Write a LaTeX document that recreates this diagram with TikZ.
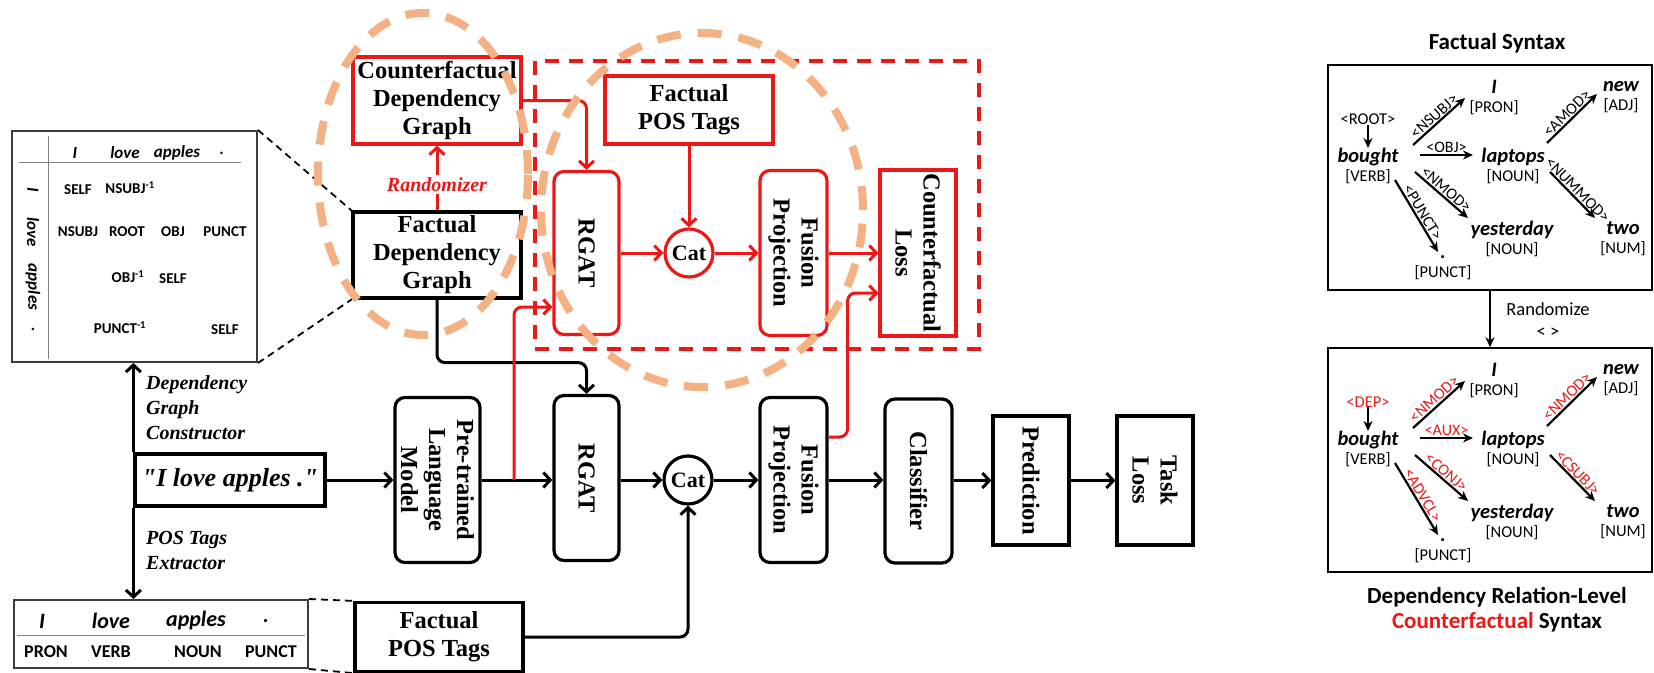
\documentclass[tikz,border=0pt]{standalone}
\usepackage{fontspec}
\setmainfont{Liberation Serif}
\newfontfamily\sentfont{Liberation Serif}[Ligatures=TeXOff]
\newfontfamily\calib{Carlito}
\usetikzlibrary{arrows.meta,calc}
\definecolor{cred}{RGB}{236,24,24}
\definecolor{corange}{RGB}{244,177,131}
\definecolor{tabline}{RGB}{60,60,60}
\newcommand\wf{\fontsize{20.5}{19}\selectfont\bfseries\itshape}
\begin{document}
\begin{tikzpicture}[x=1pt,y=-1pt,
  box/.style={draw, line width=3.2pt, inner sep=0pt, align=center, font=\bfseries\fontsize{24.5}{28}\selectfont},
  bbox/.style={box, draw=black},
  rbox/.style={box, draw=cred},
  rnd/.style={rounded corners=10pt},
  vt/.style={rotate=-90, align=center, inner sep=0pt, font=\bfseries\fontsize{24.5}{28}\selectfont},
  catnode/.style={circle, line width=3.2pt, inner sep=0pt, minimum size=48pt, font=\bfseries\fontsize{22}{24}\selectfont},
  arr/.style={line width=3pt, -{Straight Barb[length=7pt,width=15pt]}},
  rarr/.style={arr, draw=cred},
  dshd/.style={line width=1.8pt, dash pattern=on 7pt off 5pt},
  orng/.style={draw=corange, line width=8pt, dash pattern=on 24pt off 17pt},
  lbl/.style={align=left, inner sep=0pt, font=\bfseries\itshape\fontsize{20}{25}\selectfont},
  tc/.style={inner sep=0pt, font=\calib\bfseries\fontsize{15}{18}\selectfont},
  th/.style={inner sep=0pt, font=\calib\bfseries\itshape\fontsize{17}{20}\selectfont},
  wd/.style={align=center, inner sep=0pt, font=\calib\fontsize{16.5}{19}\selectfont},
  rl/.style={inner sep=1pt, font=\calib\fontsize{16}{18}\selectfont},
  rlr/.style={rl, text=cred},
  sarr/.style={line width=2.2pt, -{Stealth[length=10pt,width=9pt]}},
  ttl/.style={inner sep=0pt, align=center, font=\calib\bfseries\fontsize{23}{25}\selectfont}
]
\useasboundingbox (0,0) rectangle (1654,672);

% ---------------- left: dependency table ----------------
\node[draw=tabline, line width=2pt, minimum width=245pt, minimum height=231pt, inner sep=0pt] (deptab) at (134.5,246.5) {};
\draw[gray, line width=1pt] ($(deptab.north west)+(8,32)$) coordinate (hl1) -- ($(deptab.north east)+(-17,32)$) coordinate (hl2);
\draw[gray, line width=1pt] ($(deptab.north west)+(37,6)$) coordinate (vl1) -- ($(deptab.south west)+(37,-4)$) coordinate (vl2);
\node[th] (h1) at (75,153) {I};
\node[th] (h2) at (125,153) {love};
\node[th] (h3) at (177,153) {apples};
\node[th] (h4) at (222,153) {.};
\node[th, rotate=-90] (r1) at (33,190) {I};
\node[th, rotate=-90] (r2) at (33,232) {love};
\node[th, rotate=-90] (r3) at (33,287) {apples};
\node[th, rotate=-90] (r4) at (33,330) {.};
\node[tc] (c11) at (78,190) {SELF};
\node[tc] (c12) at (130,188) {NSUBJ\textsuperscript{-1}};
\node[tc] (c21) at (78,232) {NSUBJ};
\node[tc] (c22) at (127,232) {ROOT};
\node[tc] (c23) at (173,232) {OBJ};
\node[tc] (c24) at (225,232) {PUNCT};
\node[tc] (c32) at (128,277) {OBJ\textsuperscript{-1}};
\node[tc] (c33) at (173,279) {SELF};
\node[tc] (c42) at (120,328) {PUNCT\textsuperscript{-1}};
\node[tc] (c44) at (225,330) {SELF};

% ---------------- left: POS table ----------------
\node[draw=tabline, line width=2pt, minimum width=294pt, minimum height=68pt, inner sep=0pt] (postab) at (161,634) {};
\draw[gray, line width=1pt] ($(postab.west)+(4,1)$) coordinate (pl1) -- ($(postab.east)+(-4,1)$) coordinate (pl2);
\node[th, font=\calib\bfseries\itshape\fontsize{22}{24}\selectfont] (p1) at (42,621) {I};
\node[th, font=\calib\bfseries\itshape\fontsize{22}{24}\selectfont] (p2) at (111,621) {love};
\node[th, font=\calib\bfseries\itshape\fontsize{22}{24}\selectfont] (p3) at (196,621) {apples};
\node[th, font=\calib\bfseries\itshape\fontsize{22}{24}\selectfont] (p4) at (266,621) {.};
\node[tc, font=\calib\bfseries\fontsize{18}{20}\selectfont] (q1) at (46,652) {PRON};
\node[tc, font=\calib\bfseries\fontsize{18}{20}\selectfont] (q2) at (111,652) {VERB};
\node[tc, font=\calib\bfseries\fontsize{18}{20}\selectfont] (q3) at (198,652) {NOUN};
\node[tc, font=\calib\bfseries\fontsize{18}{20}\selectfont] (q4) at (271,652) {PUNCT};

% ---------------- counterfactual branch ----------------
\node[draw=cred, line width=3.5pt, dash pattern=on 14pt off 10pt, minimum width=444pt, minimum height=288pt, inner sep=0pt] (cfgroup) at (757,205) {};
\node[rbox, minimum width=168pt, minimum height=87pt] (cdg) at (437,100.5) {Counterfactual\\Dependency\\Graph};
\node[bbox, minimum width=168pt, minimum height=86pt] (fdg) at (437,255) {Factual\\Dependency\\Graph};
\node[rbox, minimum width=168pt, minimum height=68pt] (fposR) at (689,110) {Factual\\POS Tags};
\node[rbox, rnd, minimum width=65pt, minimum height=163pt, label={[vt]center:RGAT}] (rgatR) at (586.5,253) {};
\node[catnode, draw=cred] (catR) at (689,253) {Cat};
\node[rbox, rnd, minimum width=67pt, minimum height=165pt, label={[vt]center:Fusion\\Projection}] (fusR) at (793.5,253) {};
\node[rbox, minimum width=76pt, minimum height=166pt, label={[vt]center:Counterfactual\\Loss}] (cfl) at (918,253) {};

% ---------------- main pipeline ----------------
\node[bbox, minimum width=190pt, minimum height=52pt, font=\sentfont\bfseries\itshape\fontsize{26}{30}\selectfont] (sent) at (230,480) {"I love apples ."};
\node[bbox, rnd, minimum width=85pt, minimum height=165pt, label={[vt]center:Pre-trained\\Language\\Model}] (plm) at (437.5,480) {};
\node[bbox, rnd, minimum width=65pt, minimum height=165pt, label={[vt]center:RGAT}] (rgatB) at (586.5,478) {};
\node[catnode, draw=black] (catB) at (688,480) {Cat};
\node[bbox, rnd, minimum width=67pt, minimum height=165pt, label={[vt]center:Fusion\\Projection}] (fusB) at (793.5,480) {};
\node[bbox, rnd, minimum width=67pt, minimum height=164pt, label={[vt]center:Classifier}] (cls) at (918.5,481) {};
\node[bbox, minimum width=76pt, minimum height=129pt, label={[vt]center:Prediction}] (pred) at (1031,480.5) {};
\node[bbox, minimum width=76pt, minimum height=129pt, label={[vt]center:Task\\Loss}] (task) at (1155,480.5) {};
\node[bbox, minimum width=168pt, minimum height=69pt] (fposB) at (439,637) {Factual\\POS Tags};

\node[lbl, anchor=west] (dgc) at (146,408) {Dependency\\Graph\\Constructor};
\node[lbl, anchor=west] (pte) at (146,550) {POS Tags\\Extractor};

% connectors main
\draw[arr] (sent.north west) -- (sent.north west |- deptab.south);
\draw[arr] (sent.south west) -- (sent.south west |- postab.north);
\draw[arr] (sent.east) -- (plm.west);
\draw[arr] (plm.east) -- (rgatB.west |- plm.east);
\draw[arr] (rgatB.east |- catB.west) -- (catB.west);
\draw[arr] (catB.east) -- (fusB.west);
\draw[arr] (fusB.east) -- (cls.west |- fusB.east);
\draw[arr] (cls.east |- pred.west) -- (pred.west);
\draw[arr] (pred.east) -- (task.west);
\draw[arr, rounded corners=8pt] (fdg.south) -- ++(0,63) -| (rgatB.north);
\draw[arr, rounded corners=8pt] (fposB.east) -| (catB.south);

% connectors counterfactual
\coordinate (br1) at (514,480);
\draw[rarr, rounded corners=8pt] (br1) |- ([yshift=-54pt]rgatR.west);
\draw[rarr, rounded corners=8pt] ([yshift=43pt]fusB.east) -- ++(19,0) |- ([yshift=-40pt]cfl.west);
\draw[rarr, rounded corners=8pt] (cdg.east) -| (rgatR.north);
\draw[rarr] (fposR.south) -- (catR.north);
\draw[rarr] (rgatR.east) -- (catR.west);
\draw[rarr] (catR.east) -- (fusR.west);
\draw[rarr] (fusR.east) -- (cfl.west);
\draw[rarr] (fdg.north) -- node[pos=0.4, fill=white, inner sep=2pt, text=cred, font=\bfseries\itshape\fontsize{20}{24}\selectfont] (rlab) {Randomizer} (cdg.south);

% zoom dashed lines
\draw[dshd] (deptab.north east) -- (fdg.north west);
\draw[dshd] (deptab.south east) -- (fdg.south west);
\draw[dshd] (postab.north east) -- (fposB.north west);
\draw[dshd] (postab.south east) -- (fposB.south west);

% orange dashed ellipses
\draw[orng] (423,174) ellipse [x radius=105pt, y radius=161pt];
\draw[orng] (702,210) ellipse [x radius=161pt, y radius=177pt];

% ---------------- right panel ----------------
\node[ttl] (t1) at (1497,43) {Factual Syntax};
\node[draw, line width=1.5pt, minimum width=324pt, minimum height=225pt, inner sep=0pt] (fbox) at (1490,177.5) {};
\node[draw, line width=1.5pt, minimum width=324pt, minimum height=224pt, inner sep=0pt] (cbox) at (1490,460) {};
\draw[sarr] (fbox.south) -- (cbox.north);
\node[wd, font=\calib\fontsize{18.5}{20}\selectfont] (rz) at (1548,309) {Randomize};
\node[wd, font=\calib\fontsize{18.5}{20}\selectfont] (rzb) at (1548,333) {< >};
\node[ttl] (t2) at (1497,610) {Dependency Relation-Level\\{\color{cred}Counterfactual} Syntax};

% top graph
\node[wd] (fRoot) at (1368,119) {<ROOT>};
\node[wd] (fBought) at (1368,166) {{\wf bought}\\{[VERB]}};
\node[wd] (fI) at (1494,97) {{\wf I}\\{[PRON]}};
\node[wd] (fLap) at (1513,166) {{\wf laptops}\\{[NOUN]}};
\node[wd] (fNew) at (1621,97) {{\wf new}\\{[ADJ]}};
\node[wd] (fYes) at (1512,239) {{\wf yesterday}\\{[NOUN]}};
\node[wd] (fTwo) at (1623,239) {{\wf two}\\{[NUM]}};
\node[wd] (fDot) at (1443,268) {{\wf .}\\{[PUNCT]}};
\coordinate (fa1) at (1413,145); \coordinate (fb1) at (1465,98);
\coordinate (fa2) at (1420,155); \coordinate (fb2) at (1473,155);
\coordinate (fa3) at (1415,172); \coordinate (fb3) at (1468,218);
\coordinate (fa4) at (1395,180); \coordinate (fb4) at (1438,252);
\coordinate (fa5) at (1547,143); \coordinate (fb5) at (1597,94);
\coordinate (fa6) at (1550,172); \coordinate (fb6) at (1595,218);
\draw[sarr] (fRoot.south) -- (fBought.north);
\draw[sarr] (fa1) -- node[rl, sloped, above] (fl1) {<NSUBJ>} (fb1);
\draw[sarr] (fa2) -- node[rl, above] (fl2) {<OBJ>} (fb2);
\draw[sarr] (fa3) -- node[rl, sloped, above] (fl3) {<NMOD>} (fb3);
\draw[sarr] (fa4) -- node[rl, sloped, above] (fl4) {<PUNCT>} (fb4);
\draw[sarr] (fa5) -- node[rl, sloped, above] (fl5) {<AMOD>} (fb5);
\draw[sarr] (fa6) -- node[rl, sloped, above] (fl6) {<NUMMOD>} (fb6);

% bottom graph
\node[wd, text=cred] (cRoot) at (1368,402) {<DEP>};
\node[wd] (cBought) at (1368,449) {{\wf bought}\\{[VERB]}};
\node[wd] (cI) at (1494,380) {{\wf I}\\{[PRON]}};
\node[wd] (cLap) at (1513,449) {{\wf laptops}\\{[NOUN]}};
\node[wd] (cNew) at (1621,380) {{\wf new}\\{[ADJ]}};
\node[wd] (cYes) at (1512,522) {{\wf yesterday}\\{[NOUN]}};
\node[wd] (cTwo) at (1623,522) {{\wf two}\\{[NUM]}};
\node[wd] (cDot) at (1443,551) {{\wf .}\\{[PUNCT]}};
\coordinate (ca1) at (1413,428); \coordinate (cb1) at (1465,381);
\coordinate (ca2) at (1420,438); \coordinate (cb2) at (1473,438);
\coordinate (ca3) at (1415,455); \coordinate (cb3) at (1468,501);
\coordinate (ca4) at (1395,463); \coordinate (cb4) at (1438,535);
\coordinate (ca5) at (1547,426); \coordinate (cb5) at (1597,377);
\coordinate (ca6) at (1550,455); \coordinate (cb6) at (1595,501);
\draw[sarr] (cRoot.south) -- (cBought.north);
\draw[sarr] (ca1) -- node[rlr, sloped, above] (cl1) {<NMOD>} (cb1);
\draw[sarr] (ca2) -- node[rlr, above] (cl2) {<AUX>} (cb2);
\draw[sarr] (ca3) -- node[rlr, sloped, above] (cl3) {<CONJ>} (cb3);
\draw[sarr] (ca4) -- node[rlr, sloped, above] (cl4) {<ADVCL>} (cb4);
\draw[sarr] (ca5) -- node[rlr, sloped, above] (cl5) {<NMOD>} (cb5);
\draw[sarr] (ca6) -- node[rlr, sloped, above] (cl6) {<CSUBJ>} (cb6);
\end{tikzpicture}
\end{document}
